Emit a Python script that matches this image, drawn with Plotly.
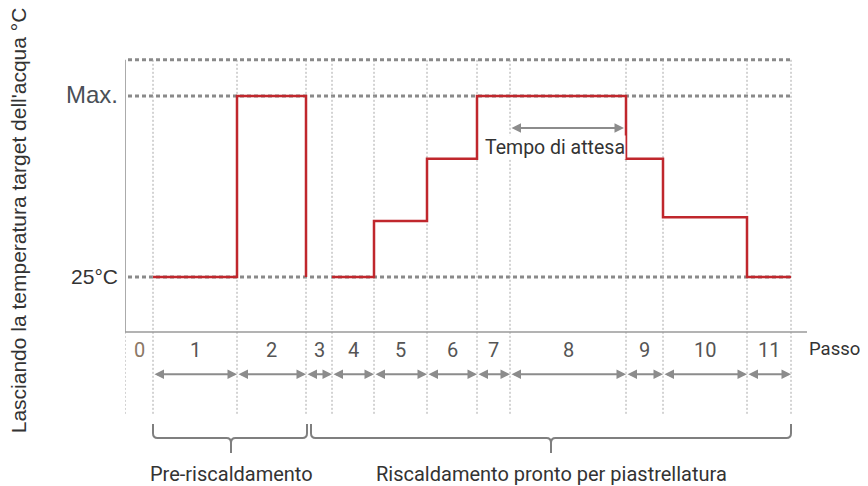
import plotly.graph_objects as go

# step boundaries (time axis, arbitrary units) and labels
step_edges = [0, 2.8, 11.2, 18.1, 20.7, 24.9, 30.2, 35.2, 38.5, 50.1, 53.8, 62.2, 66.6]
step_labels = ["0", "1", "2", "3", "4", "5", "6", "7", "8", "9", "10", "11"]

# target water temperature for steps 1..11 (25 = 25°C, 55 = Max.)
step_temp = [25, 55, 25, 25, 34.3, 44.6, 55, 55, 44.6, 34.9, 25]
hidden_plateau = ["3"]   # step 3: only the drop is drawn, no plateau

y_ticks = [25, 55]
y_ticktext = ["25°C", "Max."]
top_level = 61
axis_level = 15.9

wait_start, wait_end = 38.5, 49.9
wait_label = "Tempo di attesa"

phases = ["Pre-riscaldamento", "Riscaldamento pronto per piastrellatura"]
phase_start = [2.8, 18.6]
phase_end = [18.2, 66.6]
phase_tip = [10.6, 42.6]

RED = "#c0272d"
GRID = "#8a8a8a"
VLINE = "#a8a8a8"
ARROW = "#8c8c8c"
TXT = "#333333"
FONT = "Roboto, Liberation Sans, sans-serif"

label_y = 12.9
arrow_y = 8.9
vline_bottom = 2.1

# red step line
xs, ys = [], []
for i, t in enumerate(step_temp):
    lab = step_labels[i + 1]
    x0, x1 = step_edges[i + 1], step_edges[i + 2]
    if lab in hidden_plateau:
        xs += [x0, None]
        ys += [t, None]
    else:
        xs += [x0, x1]
        ys += [t, t]

fig = go.Figure()

shapes = []
# horizontal dotted reference lines
for lv in [top_level] + y_ticks:
    shapes.append(dict(type="line", layer="below", x0=0.3, x1=step_edges[-1], y0=lv, y1=lv,
                       line=dict(color=GRID, width=3, dash="4px,3px")))
# vertical dotted step lines
for e in step_edges[1:]:
    shapes.append(dict(type="line", layer="below", x0=e, x1=e, y0=top_level, y1=vline_bottom,
                       line=dict(color=VLINE, width=1, dash="2px,2px")))
shapes.append(dict(type="line", layer="below", x0=0, x1=0, y0=axis_level, y1=vline_bottom,
                   line=dict(color=VLINE, width=1, dash="2px,2px")))
# axes
shapes.append(dict(type="line", x0=0, x1=0, y0=axis_level, y1=top_level,
                   line=dict(color="#8f8f8f", width=1.5)))
shapes.append(dict(type="line", x0=0, x1=68.2, y0=axis_level, y1=axis_level,
                   line=dict(color="#9a9a9a", width=1.5)))

# curly brackets under the phases
yt, ym, yp = 0.63, -1.69, -4.17
rx, ry = 0.45, 0.8
for s, e, m in zip(phase_start, phase_end, phase_tip):
    p = (f"M{s},{yt} L{s},{ym + ry} Q{s},{ym} {s + rx},{ym} L{m - rx},{ym} "
         f"Q{m},{ym} {m},{ym - ry} L{m},{yp} M{m},{ym - ry} Q{m},{ym} {m + rx},{ym} "
         f"L{e - rx},{ym} Q{e},{ym} {e},{ym + ry} L{e},{yt}")
    shapes.append(dict(type="path", path=p, line=dict(color="#7f7f7f", width=2)))

fig.add_trace(go.Scatter(x=xs, y=ys, mode="lines", line=dict(color=RED, width=2.5),
                         connectgaps=False, hoverinfo="skip", showlegend=False))

ann = []
# step numbers
for i, lab in enumerate(step_labels):
    cx = (step_edges[i] + step_edges[i + 1]) / 2
    ann.append(dict(x=cx, y=label_y, text=lab, showarrow=False,
                    font=dict(family=FONT, size=20, color="#8b7765" if lab == "0" else "#555555")))
# double-headed arrows for each step
for i in range(1, len(step_edges) - 1):
    ann.append(dict(x=step_edges[i + 1], y=arrow_y, ax=step_edges[i], ay=arrow_y,
                    xref="x", yref="y", axref="x", ayref="y", text="",
                    showarrow=True, arrowside="end+start", arrowhead=2, arrowsize=0.95,
                    arrowwidth=2, arrowcolor=ARROW, standoff=0, startstandoff=0))
# waiting time arrow
ann.append(dict(x=wait_end, y=49.7, ax=wait_start, ay=49.7, xref="x", yref="y",
                axref="x", ayref="y", text="", showarrow=True, arrowside="end+start",
                arrowhead=2, arrowsize=0.95, arrowwidth=2, arrowcolor=ARROW,
                standoff=0, startstandoff=0))
ann.append(dict(x=(wait_start + wait_end) / 2 - 1.25, y=46.4, text=wait_label, showarrow=False,
                bgcolor="white", borderpad=0, font=dict(family=FONT, size=19.5, color=TXT)))
# x-axis name
ann.append(dict(xref="paper", x=1, xshift=0, y=13.0, text="Passo", showarrow=False,
                xanchor="left", font=dict(family=FONT, size=18.5, color=TXT)))
# phase names
for name, m in zip(phases, phase_tip):
    ann.append(dict(x=m, y=-7.7, text=name, showarrow=False,
                    font=dict(family=FONT, size=20, color=TXT)))
# y-axis title
ann.append(dict(xref="paper", x=0, xanchor="center", xshift=-107, y=34.4,
                text="Lasciando la temperatura target dell'acqua °C",
                textangle=-90, showarrow=False,
                font=dict(family="Liberation Sans, Arial, sans-serif", size=21, color=TXT)))

# the page body has an 8px margin, so the figure is 8px smaller and shifted
fig.update_layout(
    width=860, height=478,
    margin=dict(l=117, r=61, t=0, b=0),
    plot_bgcolor="white", paper_bgcolor="white",
    shapes=shapes, annotations=ann, showlegend=False,
    xaxis=dict(range=[0, 68.2], visible=False),
    yaxis=dict(range=[-9.64, 69.59], showgrid=False, zeroline=False, showline=False,
               tickvals=y_ticks,
               ticktext=["<span style='color:#333'>25°C</span>",
                         "<span style='color:#4a4f57;font-size:24px'>Max.</span>"],
               tickfont=dict(family="Liberation Sans, Arial, sans-serif", size=21),
               ticks="", ticklabelstandoff=6),
)

fig.write_html("out.html")
